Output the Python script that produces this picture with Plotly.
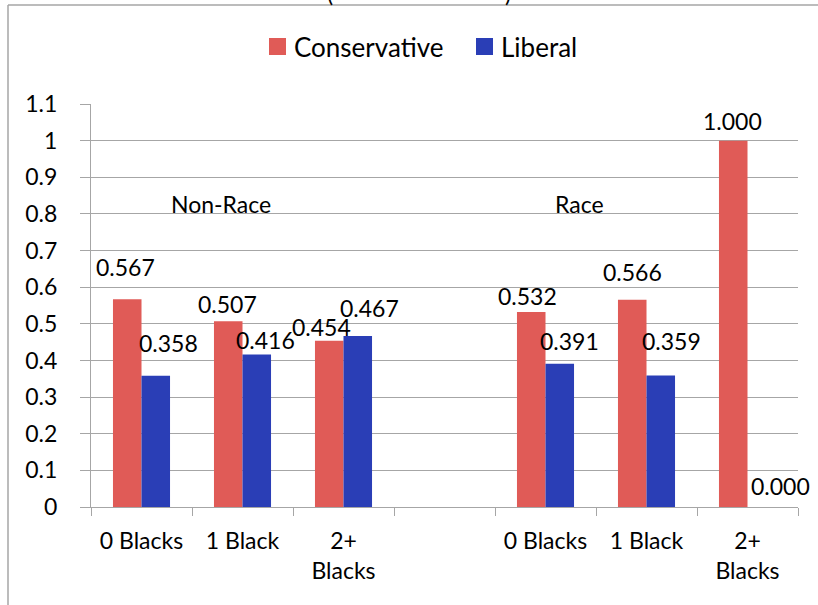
import plotly.graph_objects as go

# ---- data -------------------------------------------------------------
categories = ["0 Blacks", "1 Black", "2+<br>Blacks", "",
              "0 Blacks", "1 Black", "2+<br>Blacks"]
conservative = [0.567, 0.507, 0.454, None, 0.532, 0.566, 1.000]
liberal = [0.358, 0.416, 0.467, None, 0.391, 0.359, 0.000]
group_labels = ["Non-Race", "Race"]

# ---- style ------------------------------------------------------------
RED = "#E05B57"
BLUE = "#2A3EB6"
GRID = "#A6A6A6"
FONT = "Lato"
FS = 23
LEGEND_FS = 26

W, H = 818, 605
ML, MR, MT, MB = 91, 20, 104, 98
PW, PH = W - ML - MR, H - MT - MB


def px(x):
    return (x - ML) / PW


def py(y):
    return (H - MB - y) / PH


xpos = list(range(len(categories)))
BARGAP = 0.435
half = (1 - BARGAP) / 4  # offset of each bar centre from the category centre

fig = go.Figure()
fig.add_bar(x=xpos, y=conservative, name="Conservative",
            marker=dict(color=RED, line=dict(width=0)))
fig.add_bar(x=xpos, y=liberal, name="Liberal",
            marker=dict(color=BLUE, line=dict(width=0)))

# value labels, nudged (pixels) away from the bar tops
cons_shift = [(-2, 32), (-1, 17), (-8, 14), None, (-4, 16), (0, 28), (-1, 20)]
lib_shift = [(13, 33), (9, 15), (12, 28), None, (10, 23), (11, 34), (19, 21)]

annotations = []
for i, (c, l) in enumerate(zip(conservative, liberal)):
    for v, off, sh in ((c, -half, cons_shift[i]), (l, half, lib_shift[i])):
        if v is None:
            continue
        annotations.append(dict(
            x=i + off, y=v, xref="x", yref="y", text=f"{v:.3f}",
            showarrow=False, xanchor="center", yanchor="middle",
            xshift=sh[0], yshift=sh[1],
            font=dict(family=FONT, size=FS, color="black")))

# group captions
for text, gx in zip(group_labels, (0.787, 4.34)):
    annotations.append(dict(
        x=gx, y=0.827, xref="x", yref="y", text=text, showarrow=False,
        xanchor="center", yanchor="middle",
        font=dict(family=FONT, size=FS, color="black")))

# bottom of the title's parentheses peeking above the frame
for ch, cx in (("(", 330), (")", 508)):
    annotations.append(dict(
        x=px(cx), y=py(-7), xref="paper", yref="paper", text=ch,
        showarrow=False, xanchor="center", yanchor="middle",
        font=dict(family=FONT, size=FS, color="black")))

# legend drawn by hand (large square swatches)
shapes = []
legend_items = [("Conservative", RED, 269), ("Liberal", BLUE, 476)]
for name, col, x0 in legend_items:
    shapes.append(dict(type="rect", xref="paper", yref="paper",
                       x0=px(x0), x1=px(x0 + 17), y0=py(55), y1=py(38),
                       fillcolor=col, line=dict(width=0)))
    annotations.append(dict(
        x=px(x0 + 23), y=py(47), xref="paper", yref="paper", text=name,
        showarrow=False, xanchor="left", yanchor="middle",
        font=dict(family=FONT, size=LEGEND_FS, color="black")))

# chart frame (left and top edges)
shapes.append(dict(type="line", xref="paper", yref="paper",
                   x0=px(8), x1=px(8), y0=py(5), y1=py(H + 5),
                   line=dict(color=GRID, width=1.5)))
shapes.append(dict(type="line", xref="paper", yref="paper",
                   x0=px(8), x1=px(W + 5), y0=py(5), y1=py(5),
                   line=dict(color=GRID, width=1.5)))

fig.update_layout(
    width=W, height=H,
    margin=dict(l=ML, r=MR, t=MT, b=MB),
    paper_bgcolor="white", plot_bgcolor="white",
    barmode="group", bargap=BARGAP, bargroupgap=0,
    showlegend=False,
    font=dict(family=FONT, size=FS, color="black"),
    annotations=annotations, shapes=shapes,
)
fig.update_xaxes(
    range=[-0.5, len(categories) - 0.5],
    tickmode="array", tickvals=xpos, ticktext=categories,
    ticks="", showgrid=False,
    showline=True, linecolor=GRID, linewidth=1,
    minor=dict(tick0=-0.5, dtick=1, ticks="outside", ticklen=8,
               tickcolor=GRID, showgrid=False),
    ticklabelstandoff=13,
    tickfont=dict(family=FONT, size=FS, color="black"),
)
fig.update_yaxes(
    range=[0, 1.1], tickmode="array",
    tickvals=[round(k * 0.1, 1) for k in range(12)],
    ticktext=["0", "0.1", "0.2", "0.3", "0.4", "0.5", "0.6", "0.7",
              "0.8", "0.9", "1", "1.1"],
    showgrid=True, gridcolor=GRID, gridwidth=1,
    showline=True, linecolor=GRID, linewidth=1,
    ticks="outside", ticklen=10, tickcolor=GRID,
    ticklabelstandoff=18, zeroline=False,
    tickfont=dict(family=FONT, size=FS, color="black"),
)

fig.write_html("out.html")
